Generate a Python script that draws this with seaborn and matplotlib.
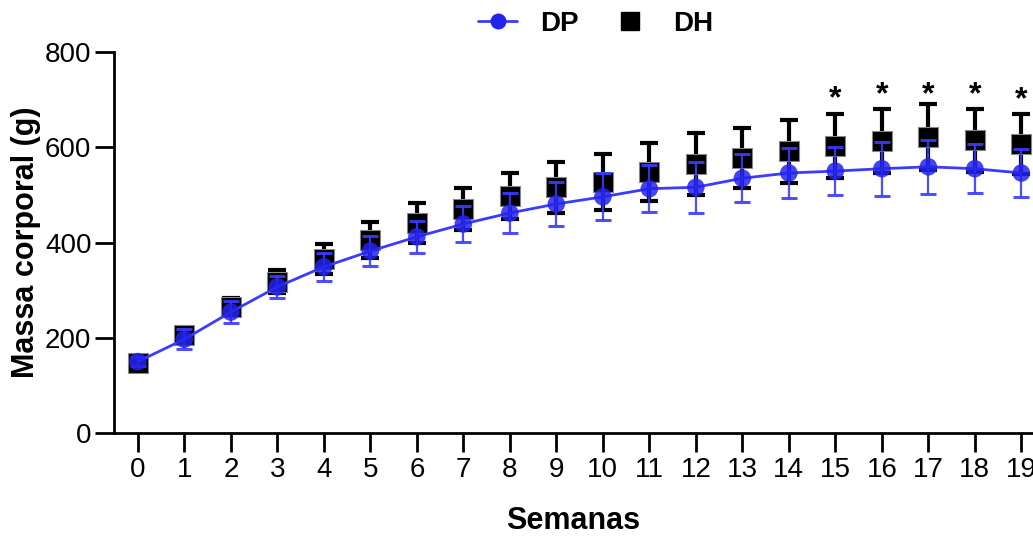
import numpy as np
import pandas as pd
import matplotlib
matplotlib.use("Agg")
import matplotlib.pyplot as plt
import seaborn as sns
from matplotlib.lines import Line2D

# Dados
semanas = list(range(20))
dp_media = [150, 197, 254, 307, 349, 382, 412, 439, 462, 481, 496, 513, 516, 535, 546, 550, 555, 559, 555, 546]
dp_dp = [10, 21, 23, 23, 30, 31, 34, 38, 42, 46, 49, 49, 54, 50, 52, 50, 57, 57, 51, 50]
dh_media = [148, 205, 265, 318, 365, 405, 441, 471, 498, 516, 527, 548, 565, 578, 592, 603, 613, 622, 615, 607]
dh_dp = [10, 15, 18, 24, 32, 38, 42, 44, 48, 53, 59, 60, 65, 63, 66, 67, 68, 69, 66, 63]
semanas_sig = [15, 16, 17, 18, 19]
y_sig = [700, 710, 710, 710, 698]

df = pd.DataFrame({"semana": semanas, "DP": dp_media, "DH": dh_media})

sns.set_style("ticks")
plt.rcParams["font.family"] = ["Liberation Sans", "DejaVu Sans"]
for k in ["text.color", "axes.labelcolor", "xtick.color", "ytick.color", "axes.edgecolor"]:
    plt.rcParams[k] = "black"

fig = plt.figure(figsize=(10.33, 5.36), dpi=100)
ax = fig.add_axes([0.110, 0.192, 0.890, 0.711])

azul = "#3b3bff"

# DH (preto)
ax.errorbar(semanas, dh_media, yerr=dh_dp, fmt="none", ecolor="black",
            elinewidth=3, capsize=6.2, capthick=3, zorder=2)
sns.scatterplot(data=df, x="semana", y="DH", marker="s", s=190, color="black",
                edgecolor="#888888", linewidth=0.8, ax=ax, zorder=3)

# DP (azul)
sns.lineplot(data=df, x="semana", y="DP", color=azul, linewidth=2, ax=ax, zorder=4)
ax.errorbar(semanas, dp_media, yerr=dp_dp, fmt="none", ecolor=azul,
            elinewidth=1.6, capsize=5.6, capthick=2.2, alpha=0.9, zorder=5)
sns.scatterplot(data=df, x="semana", y="DP", marker="o", s=160, color="#2323ee",
                edgecolor="none", alpha=0.85, ax=ax, zorder=6)

for s, y in zip(semanas_sig, y_sig):
    ax.text(s, y, "*", ha="center", va="center", fontsize=23, fontweight="bold")

ax.set_xlim(-0.52, 19.25)
ax.set_ylim(0, 800)
ax.set_xticks(semanas)
ax.set_yticks([0, 200, 400, 600, 800])
ax.tick_params(axis="both", length=14, width=2, labelsize=20, color="black")
ax.tick_params(axis="x", pad=3)
ax.tick_params(axis="y", pad=2)
for sp in ["left", "bottom"]:
    ax.spines[sp].set_linewidth(2)
sns.despine(ax=ax)

ax.set_xlabel("Semanas", fontsize=22, fontweight="bold", labelpad=17)
ax.set_ylabel("Massa corporal (g)", fontsize=22, fontweight="bold", labelpad=3)

handles = [
    Line2D([0], [0], color=azul, marker="o", markersize=11.5, markerfacecolor="#2323ee",
           markeredgecolor="none", linewidth=2),
    Line2D([0], [0], color="black", marker="s", markersize=13, linestyle="none"),
]
leg = fig.legend(handles, ["DP", "DH"], loc="center", bbox_to_anchor=(0.5765, 0.955),
                 ncol=2, frameon=False, prop={"weight": "bold", "size": 20},
                 handlelength=1.4, columnspacing=1.15, handletextpad=0.83,
                 borderpad=0, borderaxespad=0)

fig.savefig("out.png", dpi=100)
